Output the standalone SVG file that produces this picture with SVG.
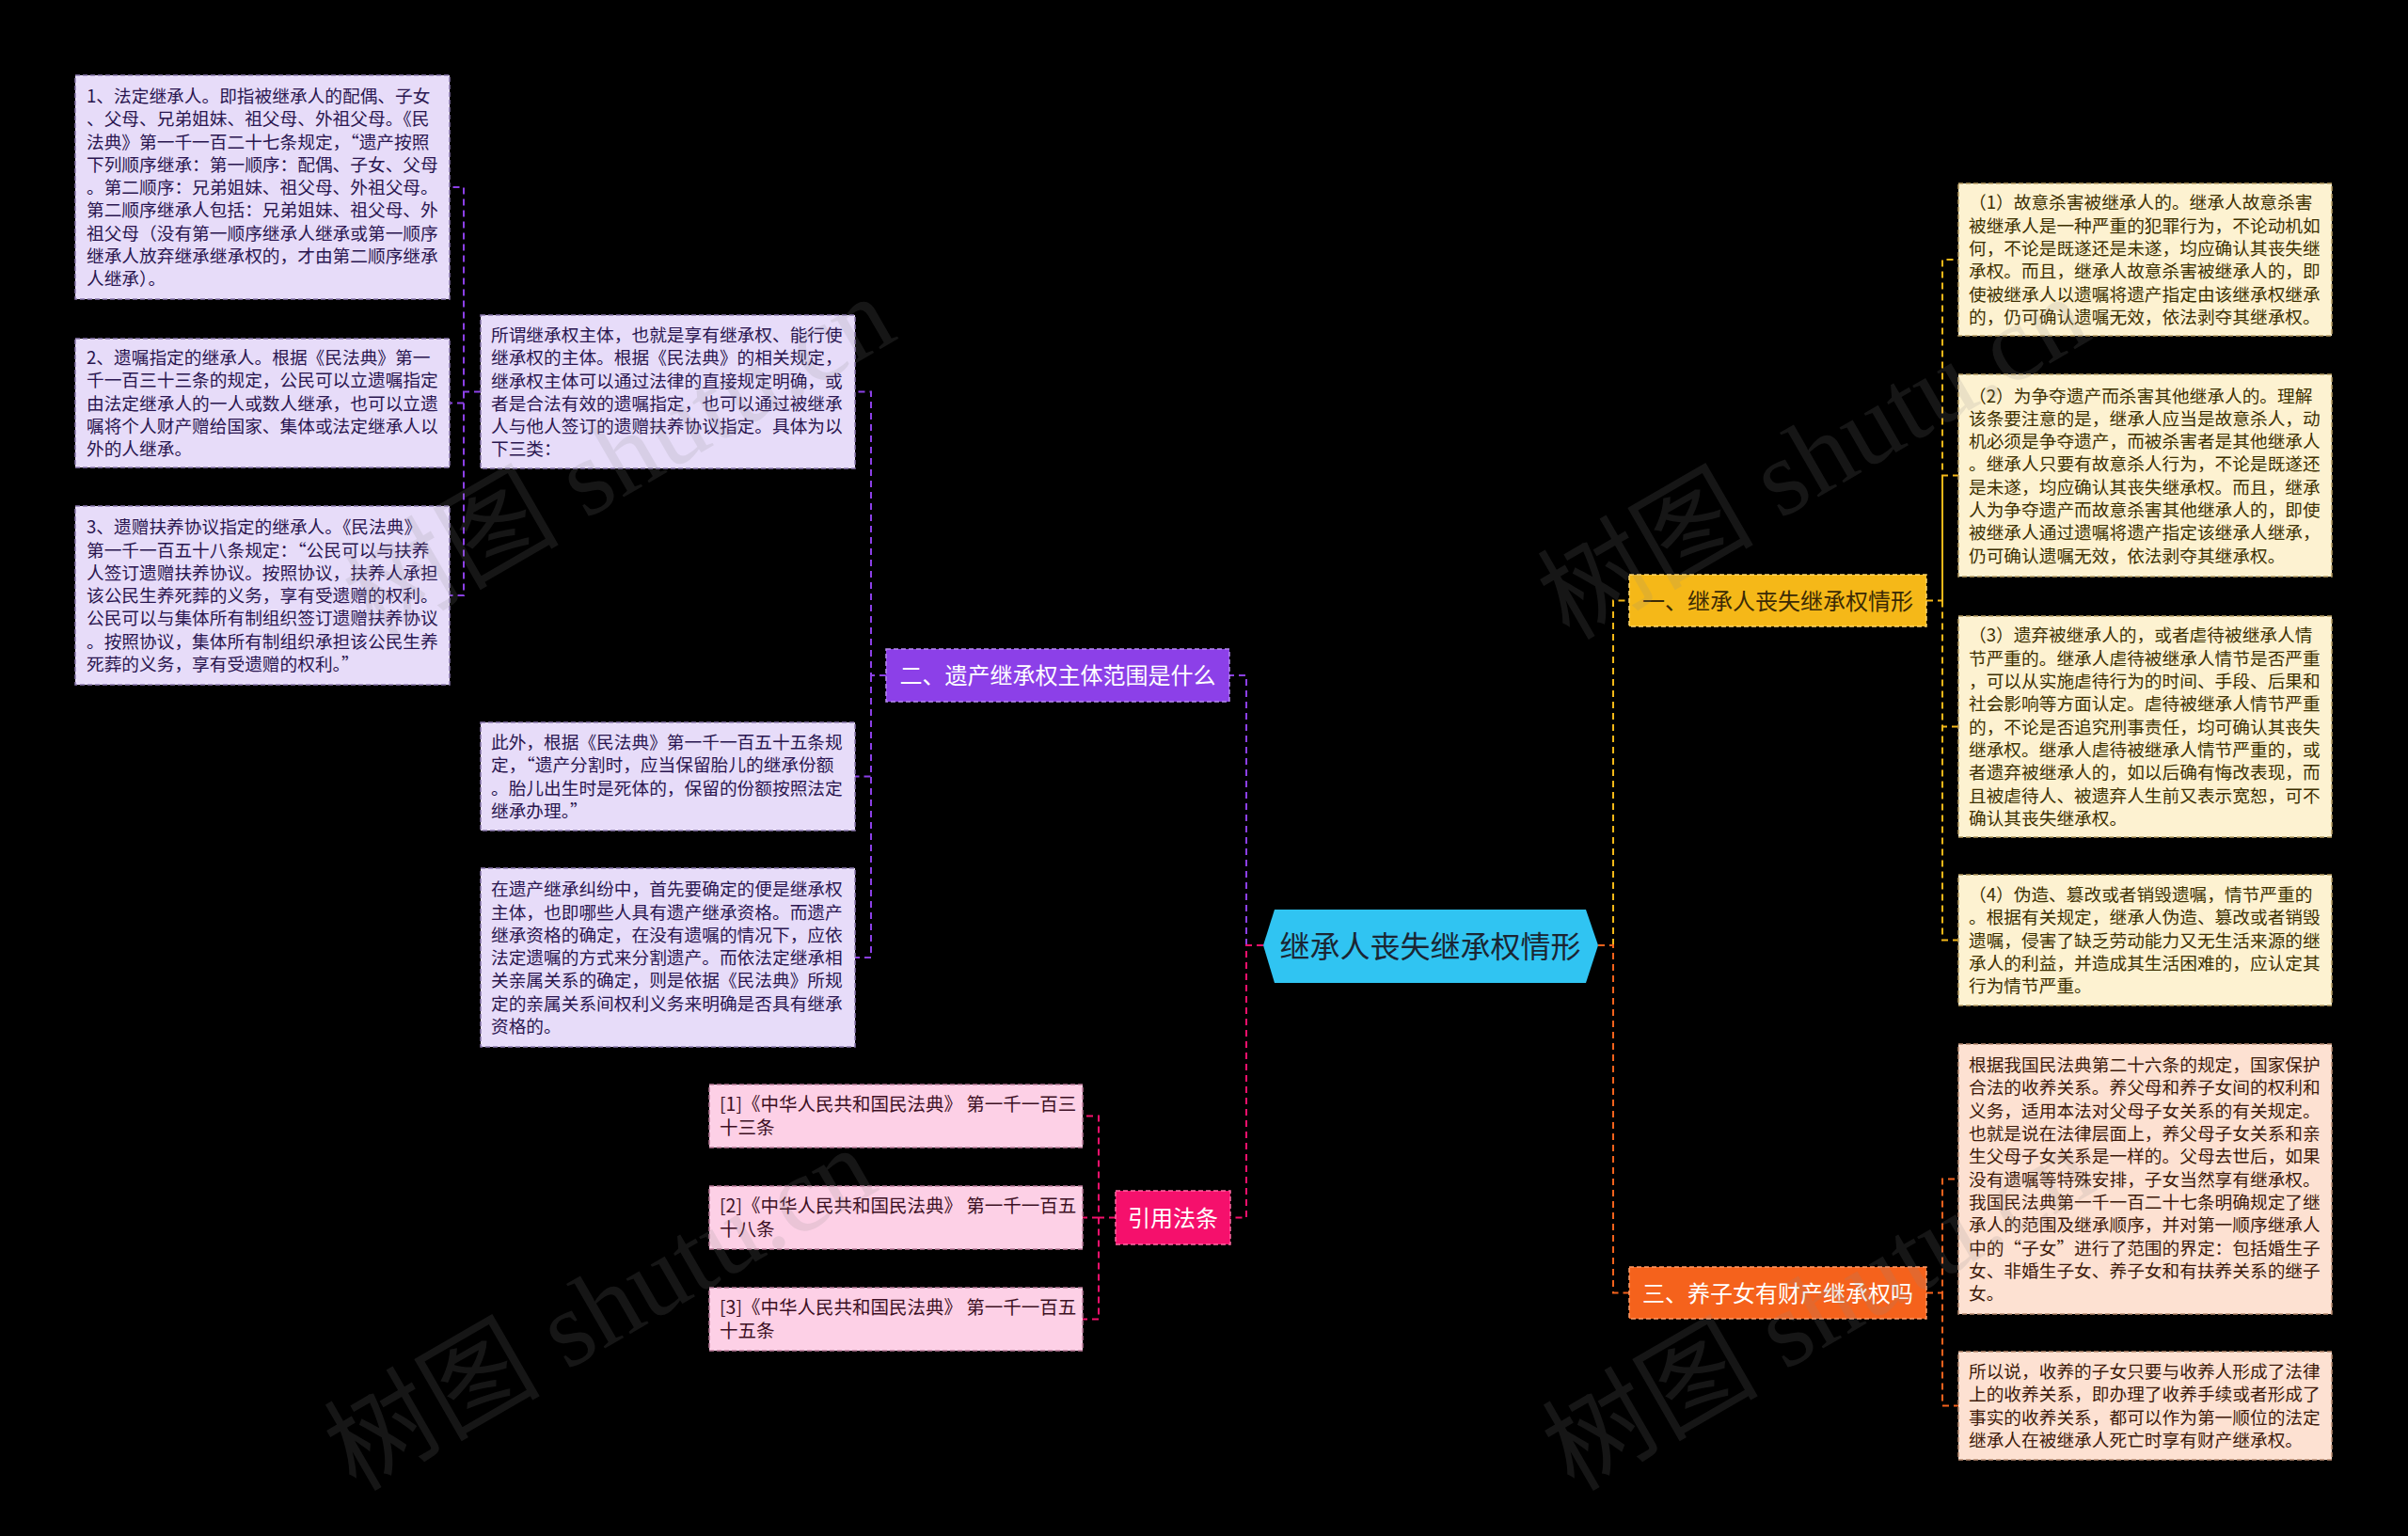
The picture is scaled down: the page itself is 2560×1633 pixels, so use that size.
<svg xmlns="http://www.w3.org/2000/svg" width="2560" height="1633" viewBox="0 0 2560 1633">
<style>
text{font-family:"Noto Sans CJK SC","Noto Sans",sans-serif}
.body{font-size:18.7px}
.cite{font-size:19.5px;fill:#3d1024}
.lav rect{fill:#e7dcf9;stroke:#8a78ad;stroke-width:1.5;stroke-dasharray:5 3}
.lav text{fill:#2a1650}
.cream rect{fill:#fdf2d1;stroke:#b49a60;stroke-width:1.5;stroke-dasharray:5 3}
.cream text{fill:#3d3000}
.peach rect{fill:#fde1d2;stroke:#b88a70;stroke-width:1.5;stroke-dasharray:5 3}
.peach text{fill:#3d1a0a}
.pinkbox rect{fill:#fdd0e6;stroke:#b87a98;stroke-width:1.5;stroke-dasharray:5 3}
.branch{font-size:24px;text-anchor:middle}
.c{fill:none;stroke-width:2;stroke-dasharray:7 5}
.wm{font-family:"Liberation Serif","Noto Sans CJK SC",serif;font-size:115px;fill:#8a8a8a;opacity:0.16}
</style>
<rect x="0" y="0" width="2560" height="1633" fill="#000"/>

<g id="connectors">
<path class="c" stroke="#8c40e8" d="M1325,1005 V718 H1307"/>
<path class="c" stroke="#f5106c" d="M1343,1005 H1325 V1294.5 H1308"/>
<path class="c" stroke="#8c40e8" d="M942,718 H926 V416.5 H909 M926,718 V825.5 H909 M926,718 V1018 H909"/>
<path class="c" stroke="#8c40e8" d="M511,416.5 H493 V199 H478 M493,416.5 V428.5 H478 M493,416.5 V633 H478"/>
<path class="c" stroke="#f5106c" d="M1186,1294.5 H1168 V1186.5 H1151 M1168,1294.5 H1151 M1168,1294.5 V1402.5 H1151"/>
<path class="c" stroke="#f5b818" d="M1715,1005 V638.5 H1732"/>
<path class="c" stroke="#f5621c" d="M1699,1005 H1715 V1374.5 H1732"/>
<path class="c" stroke="#f5b818" d="M2048,638.5 H2065 V276 H2082 M2065,638.5 V505.5 H2082 M2065,638.5 V772.5 H2082 M2065,638.5 V999.5 H2082"/>
<path class="c" stroke="#f5621c" d="M2048,1374.5 H2065 V1253.5 H2082 M2065,1374.5 V1494.5 H2082"/>
</g>

<g id="center">
<polygon points="1343,1005 1355,967 1686,967 1699,1005 1686,1045 1355,1045" fill="#30c4f2"/>
<text x="1520.5" y="1018" font-size="32" text-anchor="middle" fill="#1b2633">继承人丧失继承权情形</text>
</g>

<g id="branch2">
<rect x="942" y="690" width="365" height="56" fill="#8c40e8" stroke="#b58af0" stroke-width="1.5" stroke-dasharray="5 3"/>
<text class="branch" x="1124.5" y="727" fill="#ffffff">二、遗产继承权主体范围是什么</text>
</g>

<g id="m1" class="lav">
<rect x="511" y="335" width="398" height="163"/>
<text class="body" x="522" y="362.9"><tspan x="522">所谓继承权主体，也就是享有继承权、能行使</tspan><tspan x="522" dy="24.3">继承权的主体。根据《民法典》的相关规定，</tspan><tspan x="522" dy="24.3">继承权主体可以通过法律的直接规定明确，或</tspan><tspan x="522" dy="24.3">者是合法有效的遗嘱指定，也可以通过被继承</tspan><tspan x="522" dy="24.3">人与他人签订的遗赠扶养协议指定。具体为以</tspan><tspan x="522" dy="24.3">下三类：</tspan></text>
</g>

<g id="l1" class="lav">
<rect x="80" y="80" width="398" height="238"/>
<text class="body" x="92" y="108.9"><tspan x="92">1、法定继承人。即指被继承人的配偶、子女</tspan><tspan x="92" dy="24.3">、父母、兄弟姐妹、祖父母、外祖父母。《民</tspan><tspan x="92" dy="24.3">法典》第一千一百二十七条规定，“遗产按照</tspan><tspan x="92" dy="24.3">下列顺序继承：第一顺序：配偶、子女、父母</tspan><tspan x="92" dy="24.3">。第二顺序：兄弟姐妹、祖父母、外祖父母。</tspan><tspan x="92" dy="24.3">第二顺序继承人包括：兄弟姐妹、祖父母、外</tspan><tspan x="92" dy="24.3">祖父母（没有第一顺序继承人继承或第一顺序</tspan><tspan x="92" dy="24.3">继承人放弃继承继承权的，才由第二顺序继承</tspan><tspan x="92" dy="24.3">人继承）。</tspan></text>
</g>

<g id="l2" class="lav">
<rect x="80" y="360" width="398" height="137"/>
<text class="body" x="92" y="387"><tspan x="92">2、遗嘱指定的继承人。根据《民法典》第一</tspan><tspan x="92" dy="24.3">千一百三十三条的规定，公民可以立遗嘱指定</tspan><tspan x="92" dy="24.3">由法定继承人的一人或数人继承，也可以立遗</tspan><tspan x="92" dy="24.3">嘱将个人财产赠给国家、集体或法定继承人以</tspan><tspan x="92" dy="24.3">外的人继承。</tspan></text>
</g>

<g id="l3" class="lav">
<rect x="80" y="538" width="398" height="190"/>
<text class="body" x="92" y="567.2"><tspan x="92">3、遗赠扶养协议指定的继承人。《民法典》</tspan><tspan x="92" dy="24.3">第一千一百五十八条规定：“公民可以与扶养</tspan><tspan x="92" dy="24.3">人签订遗赠扶养协议。按照协议，扶养人承担</tspan><tspan x="92" dy="24.3">该公民生养死葬的义务，享有受遗赠的权利。</tspan><tspan x="92" dy="24.3">公民可以与集体所有制组织签订遗赠扶养协议</tspan><tspan x="92" dy="24.3">。按照协议，集体所有制组织承担该公民生养</tspan><tspan x="92" dy="24.3">死葬的义务，享有受遗赠的权利。”</tspan></text>
</g>

<g id="m2" class="lav">
<rect x="511" y="768" width="398" height="115"/>
<text class="body" x="522" y="796.1"><tspan x="522">此外，根据《民法典》第一千一百五十五条规</tspan><tspan x="522" dy="24.3">定，“遗产分割时，应当保留胎儿的继承份额</tspan><tspan x="522" dy="24.3">。胎儿出生时是死体的，保留的份额按照法定</tspan><tspan x="522" dy="24.3">继承办理。”</tspan></text>
</g>

<g id="m3" class="lav">
<rect x="511" y="923" width="398" height="190"/>
<text class="body" x="522" y="952.2"><tspan x="522">在遗产继承纠纷中，首先要确定的便是继承权</tspan><tspan x="522" dy="24.3">主体，也即哪些人具有遗产继承资格。而遗产</tspan><tspan x="522" dy="24.3">继承资格的确定，在没有遗嘱的情况下，应依</tspan><tspan x="522" dy="24.3">法定遗嘱的方式来分割遗产。而依法定继承相</tspan><tspan x="522" dy="24.3">关亲属关系的确定，则是依据《民法典》所规</tspan><tspan x="522" dy="24.3">定的亲属关系间权利义务来明确是否具有继承</tspan><tspan x="522" dy="24.3">资格的。</tspan></text>
</g>

<g id="cite">
<rect x="1186" y="1266" width="122" height="57" fill="#f5106c" stroke="#ff6aa4" stroke-width="1.5" stroke-dasharray="5 3"/>
<text class="branch" x="1247" y="1303.6" fill="#ffffff">引用法条</text>
</g>

<g id="c1" class="pinkbox">
<rect x="754" y="1153" width="397" height="67"/>
<text class="cite" x="765" y="1181.4"><tspan x="765">[1]《中华人民共和国民法典》 第一千一百三</tspan><tspan x="765" dy="25">十三条</tspan></text>
</g>
<g id="c2" class="pinkbox">
<rect x="754" y="1261" width="397" height="67"/>
<text class="cite" x="765" y="1289.4"><tspan x="765">[2]《中华人民共和国民法典》 第一千一百五</tspan><tspan x="765" dy="25">十八条</tspan></text>
</g>
<g id="c3" class="pinkbox">
<rect x="754" y="1369" width="397" height="67"/>
<text class="cite" x="765" y="1397.4"><tspan x="765">[3]《中华人民共和国民法典》 第一千一百五</tspan><tspan x="765" dy="25">十五条</tspan></text>
</g>

<g id="branch1">
<rect x="1732" y="611" width="316" height="55" fill="#f5b818" stroke="#ffd76a" stroke-width="1.5" stroke-dasharray="5 3"/>
<text class="branch" x="1890" y="647.6" fill="#3b2a05">一、继承人丧失继承权情形</text>
</g>

<g id="r1" class="cream">
<rect x="2082" y="195" width="397" height="162"/>
<text class="body" x="2093" y="222.4"><tspan x="2093">（1）故意杀害被继承人的。继承人故意杀害</tspan><tspan x="2093" dy="24.3">被继承人是一种严重的犯罪行为，不论动机如</tspan><tspan x="2093" dy="24.3">何，不论是既遂还是未遂，均应确认其丧失继</tspan><tspan x="2093" dy="24.3">承权。而且，继承人故意杀害被继承人的，即</tspan><tspan x="2093" dy="24.3">使被继承人以遗嘱将遗产指定由该继承权继承</tspan><tspan x="2093" dy="24.3">的，仍可确认遗嘱无效，依法剥夺其继承权。</tspan></text>
</g>

<g id="r2" class="cream">
<rect x="2082" y="398" width="397" height="215"/>
<text class="body" x="2093" y="427.5"><tspan x="2093">（2）为争夺遗产而杀害其他继承人的。理解</tspan><tspan x="2093" dy="24.3">该条要注意的是，继承人应当是故意杀人，动</tspan><tspan x="2093" dy="24.3">机必须是争夺遗产，而被杀害者是其他继承人</tspan><tspan x="2093" dy="24.3">。继承人只要有故意杀人行为，不论是既遂还</tspan><tspan x="2093" dy="24.3">是未遂，均应确认其丧失继承权。而且，继承</tspan><tspan x="2093" dy="24.3">人为争夺遗产而故意杀害其他继承人的，即使</tspan><tspan x="2093" dy="24.3">被继承人通过遗嘱将遗产指定该继承人继承，</tspan><tspan x="2093" dy="24.3">仍可确认遗嘱无效，依法剥夺其继承权。</tspan></text>
</g>

<g id="r3" class="cream">
<rect x="2082" y="655" width="397" height="235"/>
<text class="body" x="2093" y="682.4"><tspan x="2093">（3）遗弃被继承人的，或者虐待被继承人情</tspan><tspan x="2093" dy="24.3">节严重的。继承人虐待被继承人情节是否严重</tspan><tspan x="2093" dy="24.3">，可以从实施虐待行为的时间、手段、后果和</tspan><tspan x="2093" dy="24.3">社会影响等方面认定。虐待被继承人情节严重</tspan><tspan x="2093" dy="24.3">的，不论是否追究刑事责任，均可确认其丧失</tspan><tspan x="2093" dy="24.3">继承权。继承人虐待被继承人情节严重的，或</tspan><tspan x="2093" dy="24.3">者遗弃被继承人的，如以后确有悔改表现，而</tspan><tspan x="2093" dy="24.3">且被虐待人、被遗弃人生前又表示宽恕，可不</tspan><tspan x="2093" dy="24.3">确认其丧失继承权。</tspan></text>
</g>

<g id="r4" class="cream">
<rect x="2082" y="930" width="397" height="139"/>
<text class="body" x="2093" y="958"><tspan x="2093">（4）伪造、篡改或者销毁遗嘱，情节严重的</tspan><tspan x="2093" dy="24.3">。根据有关规定，继承人伪造、篡改或者销毁</tspan><tspan x="2093" dy="24.3">遗嘱，侵害了缺乏劳动能力又无生活来源的继</tspan><tspan x="2093" dy="24.3">承人的利益，并造成其生活困难的，应认定其</tspan><tspan x="2093" dy="24.3">行为情节严重。</tspan></text>
</g>

<g id="branch3">
<rect x="1732" y="1347" width="316" height="55" fill="#f5621c" stroke="#ff9a66" stroke-width="1.5" stroke-dasharray="5 3"/>
<text class="branch" x="1890" y="1383.6" fill="#ffffff">三、养子女有财产继承权吗</text>
</g>

<g id="r5" class="peach">
<rect x="2082" y="1110" width="397" height="287"/>
<text class="body" x="2093" y="1139.1"><tspan x="2093">根据我国民法典第二十六条的规定，国家保护</tspan><tspan x="2093" dy="24.3">合法的收养关系。养父母和养子女间的权利和</tspan><tspan x="2093" dy="24.3">义务，适用本法对父母子女关系的有关规定。</tspan><tspan x="2093" dy="24.3">也就是说在法律层面上，养父母子女关系和亲</tspan><tspan x="2093" dy="24.3">生父母子女关系是一样的。父母去世后，如果</tspan><tspan x="2093" dy="24.3">没有遗嘱等特殊安排，子女当然享有继承权。</tspan><tspan x="2093" dy="24.3">我国民法典第一千一百二十七条明确规定了继</tspan><tspan x="2093" dy="24.3">承人的范围及继承顺序，并对第一顺序继承人</tspan><tspan x="2093" dy="24.3">中的“子女”进行了范围的界定：包括婚生子</tspan><tspan x="2093" dy="24.3">女、非婚生子女、养子女和有扶养关系的继子</tspan><tspan x="2093" dy="24.3">女。</tspan></text>
</g>

<g id="r6" class="peach">
<rect x="2082" y="1437" width="397" height="115"/>
<text class="body" x="2093" y="1465.1"><tspan x="2093">所以说，收养的子女只要与收养人形成了法律</tspan><tspan x="2093" dy="24.3">上的收养关系，即办理了收养手续或者形成了</tspan><tspan x="2093" dy="24.3">事实的收养关系，都可以作为第一顺位的法定</tspan><tspan x="2093" dy="24.3">继承人在被继承人死亡时享有财产继承权。</tspan></text>
</g>

<g id="watermarks">
<text class="wm" x="660" y="525" text-anchor="middle" transform="rotate(-30 660 490)">树图 shutu.cn</text>
<text class="wm" x="1930" y="525" text-anchor="middle" transform="rotate(-30 1930 490)">树图 shutu.cn</text>
<text class="wm" x="640" y="1430" text-anchor="middle" transform="rotate(-30 640 1395)">树图 shutu.cn</text>
<text class="wm" x="1935" y="1430" text-anchor="middle" transform="rotate(-30 1935 1395)">树图 shutu.cn</text>
</g>
</svg>
